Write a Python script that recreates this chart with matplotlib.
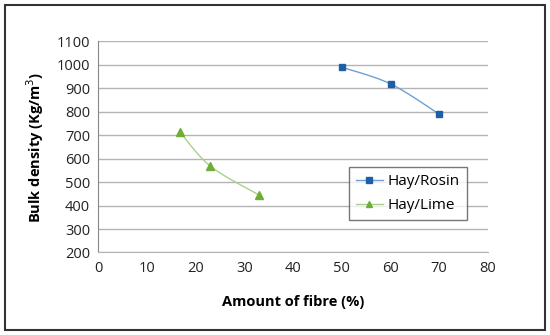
import numpy as np
import matplotlib
matplotlib.use("Agg")
import matplotlib.pyplot as plt
from matplotlib.patches import Rectangle

rosin_x = [50, 60, 70]
rosin_y = [990, 919, 790]
lime_x = [16.7, 23, 33]
lime_y = [715, 568, 445]

def smooth(x, y, n=30):
    # Catmull-Rom style smoothing (like Excel's smoothed line)
    x = np.asarray(x, float); y = np.asarray(y, float)
    px = np.concatenate([[x[0]], x, [x[-1]]])
    py = np.concatenate([[y[0]], y, [y[-1]]])
    xs, ys = [], []
    t = np.linspace(0, 1, n)
    for i in range(1, len(px) - 2):
        p0, p1, p2, p3 = [np.array([px[j], py[j]]) for j in (i - 1, i, i + 1, i + 2)]
        c1 = p1 + (p2 - p0) / 6
        c2 = p2 - (p3 - p1) / 6
        b = ((1 - t) ** 3)[:, None] * p1 + (3 * (1 - t) ** 2 * t)[:, None] * c1 \
            + (3 * (1 - t) * t ** 2)[:, None] * c2 + (t ** 3)[:, None] * p2
        xs.extend(b[:, 0]); ys.extend(b[:, 1])
    return xs, ys

plt.rcParams['font.family'] = ['Open Sans', 'DejaVu Sans']

fig = plt.figure(figsize=(5.5, 3.35), dpi=100)
ax = fig.add_axes([0.179, 0.2463, 0.708, 0.63])

blue = '#1f5fa8'
green = '#70ad35'
sx, sy = smooth(rosin_x, rosin_y)
ax.plot(sx, sy, color='#6f9fd0', lw=1.0, zorder=3)
ax.plot(rosin_x, rosin_y, ls='none', marker='s', ms=5, color=blue, zorder=4)
lx, ly = smooth(lime_x, lime_y)
ax.plot(lx, ly, color='#a9d18e', lw=1.0, zorder=3)
ax.plot(lime_x, lime_y, ls='none', marker='^', ms=5.5, color=green, zorder=4)

h1, = ax.plot([], [], color='#6f9fd0', lw=1.0, marker='s', ms=4, mfc=blue, mec=blue)
h2, = ax.plot([], [], color='#a9d18e', lw=1.0, marker='^', ms=4.5, mfc=green, mec=green)
leg = ax.legend([h1, h2], ['Hay/Rosin', 'Hay/Lime'], loc='upper left',
                bbox_to_anchor=(0.643, 0.405), fontsize=11, frameon=True, fancybox=False,
                handlelength=1.8, borderpad=0.45, labelspacing=0.6, handletextpad=0.3,
                borderaxespad=0)
leg.get_frame().set_edgecolor('#555555')
leg.get_frame().set_linewidth(1.0)

ax.set_xlim(0, 80)
ax.set_ylim(200, 1100)
ax.set_xticks(range(0, 81, 10))
ax.set_yticks(range(200, 1101, 100))
ax.grid(axis='y', color='#b4b4b4', lw=1.0)
ax.set_axisbelow(True)
for s in ['top', 'right']:
    ax.spines[s].set_visible(False)
ax.spines['left'].set_color('#888888')
ax.spines['bottom'].set_color('#b4b4b4')
ax.tick_params(length=0, labelsize=10.5, colors='#222222', pad=6)
ax.set_xlabel('Amount of fibre (%)', fontsize=10.5, fontweight='bold', labelpad=14)
ax.set_ylabel('Bulk density (Kg/m$^3$)', fontsize=10.5, fontweight='bold', labelpad=8)

fig.patches.append(Rectangle((5 / 550, 5 / 335), 540 / 550, 325 / 335, transform=fig.transFigure,
                             fill=False, edgecolor='#333333', lw=1.5))

fig.savefig('out.png', dpi=100)
